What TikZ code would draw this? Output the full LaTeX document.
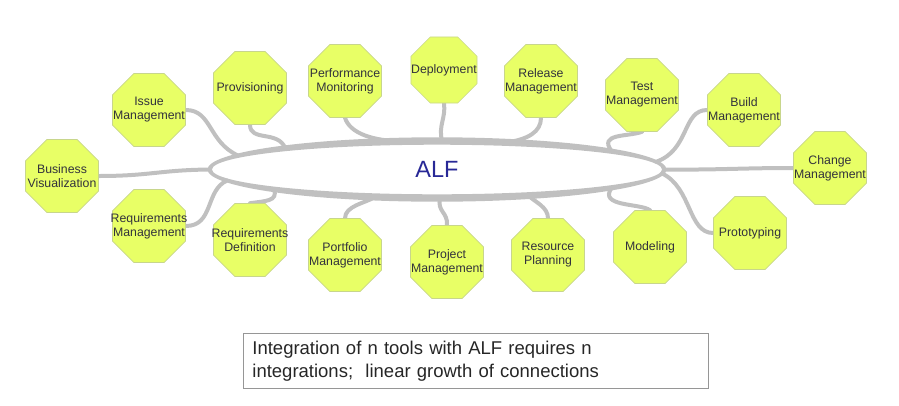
\documentclass[tikz,border=0pt]{standalone}
\usepackage{fontspec}
\setmainfont{Liberation Sans}
\usetikzlibrary{shapes.geometric}
\definecolor{octfill}{RGB}{232,255,102}
\definecolor{octline}{RGB}{200,214,140}
\definecolor{txtgray}{RGB}{50,50,60}
\definecolor{linkgray}{RGB}{192,192,192}
\definecolor{alfblue}{RGB}{40,40,150}
\definecolor{boxline}{RGB}{150,150,150}
\pgfdeclarelayer{background}
\pgfsetlayers{background,main}
\begin{document}
\begin{tikzpicture}[x=1pt,y=-1pt,
  oct/.style={regular polygon, regular polygon sides=8, minimum size=79pt, inner sep=0pt, fill=octfill, draw=octline, line width=0.6pt},
  octtext/.style={font=\fontsize{12.3}{14}\selectfont, text=txtgray, align=center},
  link/.style={draw=linkgray, line width=4pt, line cap=round}]
\useasboundingbox (0,0) rectangle (899,405);

% hub
\node[ellipse, minimum width=454pt, minimum height=57pt, inner sep=0pt,
  label={[font=\fontsize{23.5}{26}\selectfont, text=alfblue]center:ALF}] (alf) at (437,169.5) {};
\fill[linkgray, even odd rule] (alf.center) ellipse [x radius=229.5pt, y radius=32.2pt]
  (alf.center) ellipse [x radius=225pt, y radius=24.8pt];

% tools
\node[oct, label={[octtext]center:Business\\Visualization}] (biz) at (62,176) {};
\node[oct, label={[octtext]center:Issue\\Management}] (iss) at (149,110) {};
\node[oct, label={[octtext]center:Provisioning}] (prov) at (250,88) {};
\node[oct, label={[octtext]center:Performance\\Monitoring}] (perf) at (345,81) {};
\node[oct, minimum size=71.5pt, label={[octtext]center:Deployment}] (dep) at (444,70) {};
\node[oct, label={[octtext]center:Release\\Management}] (rel) at (541,81) {};
\node[oct, label={[octtext]center:Test\\Management}] (test) at (642,95) {};
\node[oct, label={[octtext]center:Build\\Management}] (build) at (744,110) {};
\node[oct, label={[octtext]center:Change\\Management}] (chg) at (830,168) {};
\node[oct, label={[octtext]center:Prototyping}] (proto) at (750,233) {};
\node[oct, label={[octtext]center:Modeling}] (model) at (650,247) {};
\node[oct, label={[octtext]center:Resource\\Planning}] (res) at (548,255) {};
\node[oct, label={[octtext]center:Project\\Management}] (proj) at (447,262) {};
\node[oct, label={[octtext]center:Portfolio\\Management}] (port) at (345,255) {};
\node[oct, label={[octtext]center:Requirements\\Definition}] (rdef) at (250,240) {};
\node[oct, label={[octtext]center:Requirements\\Management}] (rmgmt) at (149,226) {};

% connectors
\begin{pgfonlayer}{background}
\draw[link] (biz.east) .. controls (150,176) and (160,170) .. (alf.180);
\draw[link] (alf.0) .. controls (720,170) and (740,168) .. (chg.west);
\draw[link] (iss.east) .. controls (212,110) and (208,142) .. (alf.176.5);
\draw[link] (prov.south) .. controls (250,142) and (278,130) .. (alf.172.7);
\draw[link] (perf.south) .. controls (350,134) and (375,141) .. (alf.142.8);
\draw[link] (dep.south) .. controls (446,118) and (438,126) .. (alf.80);
\draw[link] (rel.south) .. controls (541,132) and (528,139) .. (alf.21.2);
\draw[link] (test.south) .. controls (628,137) and (598,133) .. (alf.6.9);
\draw[link] (build.west) .. controls (682,110) and (690,150) .. (alf.2.3);
\draw[link] (proto.west) .. controls (688,233) and (692,188) .. (alf.-1.8);
\draw[link] (model.north) .. controls (640,203) and (598,207) .. (alf.-6.9);
\draw[link] (res.north) .. controls (548,207) and (535,202) .. (alf.-16.2);
\draw[link] (proj.north) .. controls (448,212) and (437,212) .. (alf.-84);
\draw[link] (port.north) .. controls (345,206) and (365,203) .. (alf.204.6);
\draw[link] (rdef.north) .. controls (266,201) and (278,201) .. (alf.187.3);
\draw[link] (rmgmt.east) .. controls (214,226) and (205,190) .. (alf.183.5);
\end{pgfonlayer}

% caption box
\node[draw=boxline, line width=0.8pt, anchor=north west, minimum width=465pt, minimum height=55pt,
  text width=447pt, inner xsep=9pt, align=left, font=\fontsize{18.5}{23}\selectfont, text=black!85]
  (caption) at (243,333) {Integration of n tools with ALF requires n\\integrations;\ \ linear growth of connections};
\end{tikzpicture}
\end{document}
